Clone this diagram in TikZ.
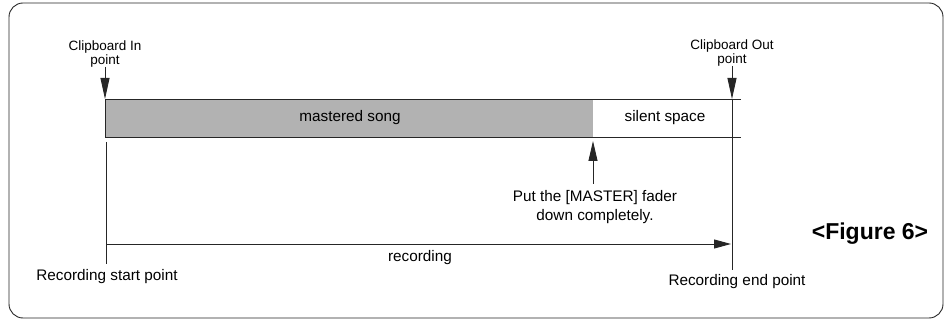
\documentclass[tikz,border=0pt]{standalone}
\usepackage{fontspec}
\setmainfont{Liberation Sans}
\usetikzlibrary{arrows.meta}
\begin{document}
\begin{tikzpicture}[x=1pt,y=-1pt,
  ln/.style={line width=0.9pt, draw=black!85},
  arr/.style={ln, -{Triangle[length=18pt,width=9pt]}},
  small/.style={font=\fontsize{13.5}{11.5}\selectfont, align=center, inner sep=0pt},
  lbl/.style={font=\fontsize{15.3}{19.5}\selectfont, inner sep=0pt, align=center},
  big/.style={font=\bfseries\fontsize{23}{26}\selectfont, inner sep=0pt}]
\useasboundingbox (0,0) rectangle (948,323);
\draw[ln, rounded corners=14pt] (9,3) rectangle (943,318);
% bar
\fill[black!30] (105,99) rectangle (593,137);
\draw[ln] (593,99) -- (105,99) -- (105,137) -- (593,137);
\draw[ln] (593,99) -- (741,99);
\draw[ln] (593,137) -- (741,137);
\node[lbl] (ms) at (350,118) {mastered song};
\node[lbl] (ss) at (665,118) {silent space};
% clipboard in
\node[small] (cin) at (105,54) {Clipboard In\\point};
\coordinate (cinst) at (105,67);
\coordinate (cintip) at (105,99);
\draw[arr, -{Triangle[length=21pt,width=9pt]}] (cinst) -- (cintip);
% clipboard out
\node[small] (cout) at (732,53) {Clipboard Out\\point};
\coordinate (coutst) at (732,66);
\coordinate (couttip) at (732,99);
\coordinate (coutbot) at (732,270);
\draw[arr, -{Triangle[length=21pt,width=9pt]}] (coutst) -- (couttip);
\draw[ln] (couttip) -- (coutbot);
% recording start
\coordinate (rstop) at (106,142);
\coordinate (rsbot) at (106,264);
\draw[ln] (rstop) -- (rsbot);
\coordinate (recstart) at (106,244);
\coordinate (recend) at (731,244);
\draw[arr, -{Triangle[length=17pt,width=9pt]}] (recstart) -- (recend);
\node[lbl] (rec) at (420,258) {recording};
\node[lbl] (rsp) at (107,277) {Recording start point};
\node[lbl] (rep) at (737,282) {Recording end point};
% master fader
\node[lbl] (mf) at (595,207) {Put the [MASTER] fader\\down completely.};
\coordinate (mfst) at (593,184);
\coordinate (mftip) at (593,141);
\draw[arr, -{Triangle[length=20pt,width=9pt]}] (mfst) -- (mftip);
\node[big] (fig) at (870,234) {<Figure 6>};
\end{tikzpicture}
\end{document}
